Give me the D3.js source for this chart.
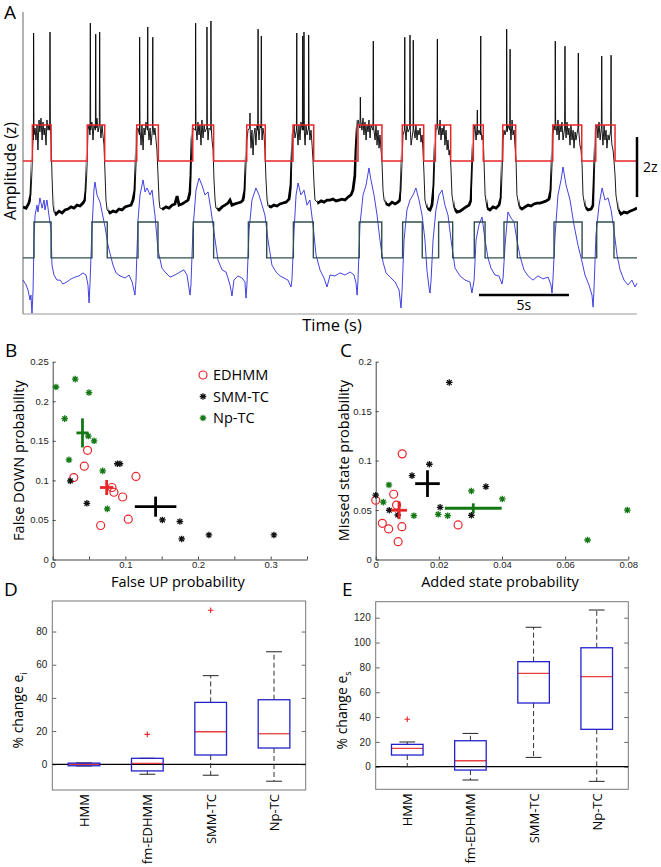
<!DOCTYPE html>
<html><head><meta charset="utf-8">
<script src="https://cdn.jsdelivr.net/npm/d3@7"></script>
<style>body{margin:0;background:#fff}svg{display:block}</style>
</head><body>
<svg id="fig" width="661" height="867"></svg>
<script>
// ---------------- DATA ----------------
// Panel A: traces (time s, amplitude z)
const blackTrace = [[0,3.57],[0.17,3.53],[0.33,3.7],[0.44,3.97],[0.5,4.8],[0.56,5.97],[0.58,5.8],[0.59,9.37],[0.61,5.97],
[0.67,6.2],[0.72,5.8],[0.78,6.3],[0.83,5.47],[0.89,6.47],[0.94,6.07],[1.0,6.53],[1.06,5.8],[1.11,6.4],[1.17,5.97],[1.22,6.2],[1.28,5.63],[1.33,6.47],[1.39,6.13],[1.44,6.3],[1.48,6.13],[1.5,9.4],[1.52,6.2],[1.56,5.8],[1.61,4.63],[1.67,3.63],[1.72,3.4],
[1.83,3.33],[2.0,3.43],[2.17,3.37],[2.33,3.47],[2.5,3.5],[2.67,3.57],[2.83,3.53],[3.0,3.63],[3.17,3.6],[3.33,3.7],[3.44,3.8],[3.5,4.13],[3.56,4.97],[3.61,6.13],
[3.67,6.3],[3.72,5.97],[3.74,9.7],[3.76,6.13],[3.83,6.4],[3.89,5.8],[3.94,6.3],[4.02,6.13],[4.04,9.33],[4.06,6.2],[4.11,6.53],[4.17,6.07],[4.24,6.3],[4.26,9.4],[4.28,6.3],[4.33,5.87],[4.39,6.3],[4.44,5.97],[4.5,5.63],[4.56,4.63],[4.61,3.8],[4.67,3.47],
[4.83,3.37],[5.0,3.43],[5.17,3.4],[5.33,3.5],[5.5,3.47],[5.67,3.57],[5.83,3.6],[6.0,3.63],[6.11,3.8],[6.22,4.13],[6.28,4.97],[6.33,6.13],
[6.39,6.2],[6.47,5.97],[6.48,9.23],[6.5,6.13],[6.56,5.63],[6.61,6.3],[6.67,5.47],[6.72,6.2],[6.78,5.97],[6.83,6.4],[6.91,6.13],[6.93,9.57],[6.94,6.3],[7.0,5.8],[7.06,6.2],[7.11,5.63],[7.19,6.13],[7.21,9.23],[7.22,6.3],[7.28,5.97],[7.33,6.2],[7.39,5.8],[7.44,5.47],[7.5,4.63],[7.56,3.8],[7.61,3.53],
[7.78,3.5],[7.94,3.57],[8.11,3.53],[8.28,3.63],[8.44,3.67],[8.56,3.93],[8.67,3.63],[8.83,3.67],[9.0,3.73],[9.17,3.8],[9.28,4.07],[9.33,4.63],[9.39,5.8],
[9.44,6.2],[9.58,6.13],[9.59,9.7],[9.61,6.2],[9.67,5.8],[9.72,6.4],[9.78,5.97],[9.83,6.3],[9.89,5.63],[9.94,6.47],[10.0,5.87],[10.06,6.3],[10.11,6.07],[10.21,6.2],[10.22,9.57],[10.24,6.3],[10.28,5.8],[10.33,6.2],[10.43,6.13],[10.44,9.77],[10.46,6.2],[10.5,5.8],[10.56,5.47],[10.61,4.47],[10.67,3.8],[10.72,3.53],
[10.89,3.47],[11.06,3.57],[11.22,3.63],[11.39,3.7],[11.5,3.8],[11.61,3.63],[11.78,3.67],[11.94,3.7],[12.11,3.73],[12.22,3.8],[12.33,4.13],[12.39,4.97],[12.44,5.8],
[12.5,6.13],[12.59,6.2],[12.61,6.7],[12.63,5.97],[12.67,5.53],[12.72,6.13],[12.78,5.3],[12.83,5.97],[12.89,6.2],[12.94,5.63],[13.0,6.3],[13.04,6.13],[13.06,9.5],[13.07,6.2],[13.11,5.8],[13.17,6.3],[13.22,6.2],[13.24,9.27],[13.26,6.13],[13.28,5.8],[13.33,6.2],[13.39,5.97],[13.44,5.47],[13.5,4.47],[13.56,3.8],[13.61,3.6],
[13.78,3.57],[13.94,3.63],[14.11,3.6],[14.28,3.67],[14.44,3.7],[14.61,3.73],[14.78,3.83],[14.89,4.3],[14.94,5.13],[15.0,5.97],
[15.06,6.3],[15.11,5.87],[15.19,6.13],[15.21,9.37],[15.22,6.2],[15.28,5.63],[15.33,6.3],[15.39,5.8],[15.44,6.4],[15.52,6.13],[15.54,9.27],[15.56,6.2],[15.59,6.13],[15.61,9.4],[15.63,6.07],[15.67,5.63],[15.72,6.3],[15.78,5.97],[15.86,6.2],[15.87,9.3],[15.89,6.3],[15.94,5.8],[16.0,6.13],[16.06,5.63],[16.11,5.13],[16.17,4.3],[16.22,3.8],
[16.39,3.7],[16.56,3.77],[16.72,3.73],[16.89,3.8],[17.06,3.8],[17.22,3.83],[17.39,3.77],[17.56,3.8],[17.72,3.83],[17.89,3.8],[18.06,3.9],[18.22,3.97],[18.33,4.13],[18.44,4.63],[18.5,5.47],[18.56,6.13],
[18.61,6.47],[18.72,6.2],[18.74,7.23],[18.76,6.47],[18.83,6.13],[18.89,6.53],[18.94,5.97],[19.0,6.4],[19.06,5.8],[19.11,6.3],[19.17,6.07],[19.22,6.47],[19.28,5.87],[19.33,6.3],[19.44,6.13],[19.46,9.1],[19.48,6.2],[19.56,5.8],[19.61,6.3],[19.67,5.63],[19.72,6.13],[19.78,5.53],[19.83,5.97],[19.89,5.47],[19.94,5.13],[20.0,4.13],[20.06,3.8],[20.17,3.67],
[20.33,3.63],[20.5,3.73],[20.67,3.67],[20.83,3.73],[20.94,3.8],[21.0,4.13],[21.06,5.13],[21.11,5.97],
[21.19,6.13],[21.21,9.23],[21.22,6.2],[21.28,5.8],[21.33,6.3],[21.39,6.07],[21.48,6.2],[21.5,9.3],[21.52,6.13],[21.56,5.63],[21.67,6.13],[21.68,9.13],[21.7,6.2],[21.78,5.87],[21.83,6.3],[21.89,5.8],[21.94,6.13],[22.0,5.97],[22.06,6.2],[22.11,5.73],[22.17,5.97],[22.22,5.47],[22.28,4.63],[22.33,3.8],[22.44,3.53],[22.61,3.47],[22.72,3.63],[22.83,4.3],[22.89,5.47],[22.94,6.13],
[23.0,6.2],[23.02,9.17],[23.03,6.3],[23.11,5.97],[23.17,6.47],[23.22,5.8],[23.28,6.2],[23.33,5.97],[23.39,6.3],[23.44,5.63],[23.5,6.13],[23.56,5.47],[23.61,5.8],[23.67,5.3],[23.72,5.47],[23.78,4.8],[23.83,3.97],[23.94,3.53],[24.11,3.4],[24.28,3.43],[24.44,3.5],[24.61,3.57],[24.78,3.63],[24.89,3.8],[24.94,4.47],[25.0,5.47],[25.06,6.13],
[25.11,6.3],[25.17,5.8],[25.22,6.2],[25.24,6.8],[25.26,5.97],[25.33,6.13],[25.41,5.97],[25.43,9.27],[25.44,6.13],[25.5,5.8],[25.56,5.97],[25.61,5.13],[25.67,3.97],[25.78,3.53],
[25.94,3.47],[26.11,3.57],[26.28,3.53],[26.44,3.63],[26.56,3.87],[26.61,4.63],[26.67,5.8],
[26.72,6.13],[26.78,5.97],[26.86,6.2],[26.87,9.5],[26.89,6.07],[26.94,6.3],[27.04,6.13],[27.06,8.83],[27.07,6.2],[27.11,5.8],[27.17,6.47],[27.22,5.97],[27.28,6.13],[27.33,5.63],[27.39,5.13],[27.44,3.97],[27.56,3.57],
[27.72,3.5],[27.89,3.57],[28.06,3.63],[28.22,3.6],[28.39,3.67],[28.56,3.7],[28.72,3.7],[28.89,3.73],[29.06,3.77],[29.22,3.83],[29.33,4.13],[29.39,4.97],[29.44,5.97],
[29.5,6.3],[29.56,6.13],[29.57,9.1],[29.59,6.4],[29.67,5.97],[29.72,6.47],[29.78,5.8],[29.83,6.3],[29.89,6.07],[29.94,6.4],[30.0,5.8],[30.09,6.2],[30.11,8.93],[30.13,6.3],[30.17,5.87],[30.22,6.4],[30.28,5.97],[30.33,6.2],[30.39,5.63],[30.44,6.3],[30.5,5.8],[30.56,6.13],[30.61,5.53],[30.67,6.07],[30.72,5.8],[30.83,6.2],[30.85,8.7],[30.87,6.13],[30.94,5.63],[31.0,5.47],[31.06,4.97],[31.11,3.97],[31.22,3.57],[31.39,3.47],
[31.56,3.5],[31.67,3.63],[31.72,4.3],[31.78,5.3],[31.83,6.13],
[31.89,6.3],[31.94,5.87],[32.0,6.4],[32.06,5.8],[32.13,6.2],[32.15,8.6],[32.17,6.13],[32.22,5.63],[32.28,6.3],[32.33,5.8],[32.39,6.13],[32.44,5.53],[32.5,5.97],[32.56,5.8],[32.65,6.13],[32.67,8.63],[32.68,5.97],[32.72,5.63],[32.78,5.47],[32.83,5.13],[32.89,4.63],[32.94,3.97],[33.06,3.47],
[33.22,3.33],[33.39,3.4],[33.56,3.37],[33.72,3.43],[33.89,3.47],[34.11,3.53]];

const blueTrace = [[0,1.13],[0.17,0.97],[0.28,0.8],[0.39,0.47],[0.44,0.63],[0.5,0.03],[0.56,0.8],[0.61,2.47],[0.67,3.3],[0.78,3.63],[0.83,3.4],[0.94,3.87],[1.06,3.53],[1.17,3.8],[1.22,3.47],[1.33,3.8],[1.44,3.3],[1.56,2.8],[1.61,1.63],[1.72,1.3],[1.89,1.13],[2.06,1.13],[2.22,1.0],[2.44,1.07],[2.67,1.17],[2.89,1.23],[3.11,1.27],[3.33,1.37],[3.5,1.3],[3.61,0.97],[3.67,0.37],[3.72,0.97],[3.83,2.8],[3.94,4.13],[4.0,4.4],[4.11,3.97],[4.28,3.73],[4.39,3.4],[4.56,2.9],[4.72,2.3],[4.83,2.03],[5.0,1.63],[5.17,1.37],[5.39,1.27],[5.67,1.2],[5.89,1.3],[6.06,1.07],[6.22,0.63],[6.28,1.13],[6.39,3.13],[6.5,3.97],[6.67,4.47],[6.78,4.07],[6.89,4.2],[7.06,3.97],[7.17,4.13],[7.33,3.3],[7.5,2.13],[7.72,1.53],[7.89,1.4],[8.17,1.23],[8.44,1.3],[8.72,1.4],[8.94,1.47],[9.11,1.3],[9.28,0.63],[9.33,0.97],[9.44,2.8],[9.61,4.13],[9.78,4.53],[9.94,4.3],[10.11,3.97],[10.28,4.07],[10.44,3.47],[10.61,2.73],[10.83,1.8],[11.06,1.47],[11.28,1.4],[11.5,0.97],[11.61,0.6],[11.72,1.13],[11.94,1.27],[12.17,1.2],[12.33,1.07],[12.39,0.53],[12.44,0.97],[12.56,2.8],[12.72,3.8],[12.94,4.2],[13.11,3.97],[13.28,3.63],[13.44,3.3],[13.61,2.47],[13.83,1.63],[14.06,1.4],[14.28,1.27],[14.5,1.2],[14.72,1.13],[14.89,0.9],[14.94,1.13],[15.06,2.8],[15.17,3.97],[15.28,4.37],[15.44,3.97],[15.61,4.13],[15.78,3.63],[15.94,3.8],[16.11,2.97],[16.28,1.97],[16.5,1.47],[16.72,1.2],[16.89,0.9],[17.06,1.3],[17.33,1.27],[17.61,1.37],[17.89,1.3],[18.17,1.4],[18.39,1.3],[18.5,1.03],[18.56,0.63],[18.61,1.13],[18.72,2.97],[18.89,3.97],[19.06,4.3],[19.22,4.87],[19.33,4.47],[19.5,3.97],[19.67,3.3],[19.83,2.47],[20.0,1.73],[20.17,1.37],[20.39,1.23],[20.67,1.07],[20.89,0.8],[21.0,0.2],[21.06,0.8],[21.17,2.47],[21.33,3.47],[21.5,3.8],[21.67,3.97],[21.83,4.2],[22.0,3.8],[22.17,3.3],[22.33,2.47],[22.44,1.47],[22.56,0.87],[22.61,0.7],[22.67,1.13],[22.78,2.47],[22.94,3.47],[23.11,3.97],[23.28,4.13],[23.44,3.63],[23.61,3.3],[23.78,2.47],[24.0,1.53],[24.28,1.27],[24.56,1.13],[24.83,1.07],[24.94,0.7],[25.06,1.13],[25.17,2.47],[25.33,2.97],[25.5,3.23],[25.67,2.47],[25.83,1.87],[26.0,1.53],[26.22,1.3],[26.44,1.27],[26.61,1.0],[26.67,1.2],[26.78,2.3],[26.94,3.4],[27.11,3.2],[27.28,3.07],[27.44,2.47],[27.61,1.93],[27.83,1.47],[28.06,1.27],[28.33,1.13],[28.61,1.27],[28.89,1.17],[29.17,1.23],[29.33,0.97],[29.39,0.7],[29.44,1.13],[29.56,2.63],[29.72,3.97],[29.89,4.47],[30.0,4.9],[30.17,4.3],[30.39,3.8],[30.61,2.97],[30.83,2.3],[31.06,1.73],[31.22,1.3],[31.44,0.97],[31.61,0.63],[31.67,0.23],[31.72,0.8],[31.83,2.63],[32.0,3.63],[32.17,4.2],[32.33,3.8],[32.5,3.87],[32.67,3.47],[32.83,2.8],[33.0,1.97],[33.17,1.47],[33.39,1.13],[33.61,0.97],[33.83,1.13],[34.0,0.9],[34.11,1.03]];

// UP-state intervals (s)
const redUp = [[0.52,1.56],[3.57,4.54],[6.32,7.52],[9.43,10.59],[12.43,13.46],[15.0,16.15],[18.61,19.94],[21.07,22.26],[22.91,23.76],[25.02,25.57],[26.65,27.37],[29.43,31.04],[31.82,32.89]];
const slateUp = [[0.61,1.56],[3.83,4.68],[6.39,7.5],[9.46,10.59],[12.52,13.54],[15.02,16.13],[18.68,19.93],[21.09,22.18],[23.09,23.87],[25.07,25.67],[26.72,27.46],[29.5,31.06],[31.87,32.83]];
const redLevels = [5.1, 6.3];
const slateLevels = [1.87, 3.07];
const tEnd = 34.11;
const zBar = [3.9, 5.9];          // 2z scale bar
const tBar = [25.33, 30.33];      // 5 s scale bar
const tBarZ = 0.63;

// Panel B
const bEdX = [0.048,0.0435,0.029,0.1146,0.0816,0.0843,0.0963,0.104,0.066];
const bEdY = [0.138,0.118,0.1035,0.105,0.091,0.085,0.079,0.051,0.043];
const bSmX = [0.0242,0.047,0.089,0.0926,0.151,0.175,0.1775,0.215,0.3045];
const bSmY = [0.0994,0.071,0.121,0.121,0.050,0.048,0.026,0.031,0.031];
const bNpX = [0.0045,0.031,0.050,0.0165,0.049,0.057,0.0224,0.0688,0.0751];
const bNpY = [0.218,0.228,0.211,0.178,0.156,0.150,0.126,0.112,0.064];
const bMeans = [[0.0743,0.091,0.0092,0.0095],[0.1416,0.0668,0.0286,0.0127],[0.041,0.160,0.0083,0.0184]]; // x,y,errX,errY
// Panel C
const cEdX = [0.0084,0,0.0057,0.0066,0.0021,0.0041,0.0083,0.0261,0.0071];
const cEdY = [0.1068,0.060,0.066,0.055,0.0366,0.0309,0.0332,0.035,0.018];
const cSmX = [0.0233,0.017,0.0115,0.0349,0,0.0043,0.007,0.0204,0.0303];
const cSmY = [0.179,0.0963,0.0848,0.0737,0.065,0.0498,0.045,0.0528,0.0447];
const cNpX = [0.0042,0.0024,0.0121,0.0198,0.0228,0.0303,0.0401,0.0797,0.0671];
const cNpY = [0.0754,0.058,0.0443,0.0457,0.0443,0.0693,0.0612,0.050,0.0197];
const cMeans = [[0.0074,0.0498,0.0025,0.009],[0.0164,0.0767,0.0039,0.0135],[0.0309,0.0518,0.009,0.005]];
const legendNames = ["EDHMM","SMM-TC","Np-TC"];

// Panels D, E (boxplots)
const boxCats = ["HMM","fm-EDHMM","SMM-TC","Np-TC"];
const dLow = [-1,-6,-6.6,-10.2], dQ1 = [-0.9,-4.0,5.6,9.8], dMed = [0,0.6,19.6,18.4], dQ3 = [0.7,3.6,37.3,38.9], dHigh = [0.8,3.6,53.4,67.8];
const dOut = [[1,18],[2,92.8]];   // [category index, value]
const eLow = [0,-10.7,7.5,-11.8], eQ1 = [9.4,-2.7,51.3,30.1], eMed = [14.8,4.8,75.2,72.5], eQ3 = [18.0,20.9,84.6,95.8], eHigh = [19.9,26.8,112.3,126.2];
const eOut = [[0,38.2]];
const dTicks = [0,20,40,60,80], eTicks = [0,20,40,60,80,100,120];
const bXTicks = [0,0.05,0.1,0.15,0.2,0.25,0.3,0.35], bYTicks = [0,0.05,0.1,0.15,0.2,0.25];
const cXTicks = [0,0.02,0.04,0.06,0.08], cYTicks = [0,0.05,0.1,0.15,0.2];

// ---------------- DRAW ----------------
const svg = d3.select("#fig");
const LF = "'Open Sans', sans-serif";
const TF = "'Liberation Sans', Arial, sans-serif";
const RED = "#e8262a", GREEN = "#137813", BLUE = "#2c2cdc", SLATE = "#2f4f4f";

function panelLabel(t, x, y){ svg.append("text").attr("x",x).attr("y",y).attr("font-family",LF).attr("font-size",19).text(t); }

// ---- Panel A ----
const xA = d3.scaleLinear().domain([0, tEnd]).range([23, 637]);
const yA = d3.scaleLinear().domain([0, 10.07]).range([314, 12]);
const gA = svg.append("g");
gA.append("line").attr("x1",xA(0)).attr("x2",xA(0)).attr("y1",yA(10.07)).attr("y2",yA(0)).attr("stroke","#666").attr("stroke-width",1);
gA.append("line").attr("x1",xA(0)).attr("x2",xA(tEnd)).attr("y1",yA(0)).attr("y2",yA(0)).attr("stroke","#999").attr("stroke-width",1);

function stepPoints(ints, lv){
  const pts = [[0, lv[0]]];
  ints.forEach(([s,e]) => { pts.push([s,lv[0]],[s,lv[1]],[e,lv[1]],[e,lv[0]]); });
  pts.push([tEnd, lv[0]]);
  return pts;
}
const lineA = d3.line().x(d=>xA(d[0])).y(d=>yA(d[1]));
// thicker stroke during DOWN states to mimic the noisy baseline band
const clip = svg.append("defs").append("clipPath").attr("id","downclip");
let prev = 0;
redUp.forEach(([s,e],i) => {
  const a = i===0 ? 0 : prev + 0.2, b = s - 0.08;
  if (b > a) clip.append("rect").attr("x",xA(a)).attr("y",0).attr("width",xA(b)-xA(a)).attr("height",330);
  prev = e;
});
clip.append("rect").attr("x",xA(prev+0.2)).attr("y",0).attr("width",xA(tEnd)-xA(prev+0.2)).attr("height",330);

gA.append("path").attr("d",lineA(blueTrace)).attr("fill","none").attr("stroke",BLUE).attr("stroke-width",0.9);
gA.append("path").attr("d",lineA(stepPoints(slateUp, slateLevels))).attr("fill","none").attr("stroke",SLATE).attr("stroke-width",1.4);
gA.append("path").attr("d",lineA(blackTrace)).attr("fill","none").attr("stroke","#000").attr("stroke-width",2.8).attr("clip-path","url(#downclip)");
gA.append("path").attr("d",lineA(blackTrace)).attr("fill","none").attr("stroke","#000").attr("stroke-width",0.9);
gA.append("path").attr("d",lineA(stepPoints(redUp, redLevels))).attr("fill","none").attr("stroke",RED).attr("stroke-width",1.5);

// scale bars
gA.append("line").attr("x1",xA(tEnd)).attr("x2",xA(tEnd)).attr("y1",yA(zBar[0])).attr("y2",yA(zBar[1])).attr("stroke","#000").attr("stroke-width",2.5);
gA.append("text").attr("x",xA(tEnd)+6).attr("y",yA((zBar[0]+zBar[1])/2)+5).attr("font-family",LF).attr("font-size",14).text("2z");
gA.append("line").attr("x1",xA(tBar[0])).attr("x2",xA(tBar[1])).attr("y1",yA(tBarZ)).attr("y2",yA(tBarZ)).attr("stroke","#000").attr("stroke-width",2.5);
gA.append("text").attr("x",xA((tBar[0]+tBar[1])/2)).attr("y",yA(tBarZ)+15).attr("text-anchor","middle").attr("font-family",LF).attr("font-size",14).text("5s");
gA.append("text").attr("transform",`translate(16,${(yA(0)+yA(10.07))/2+8}) rotate(-90)`).attr("text-anchor","middle").attr("font-family",LF).attr("font-size",16).text("Amplitude (z)");
gA.append("text").attr("x",332).attr("y",331).attr("text-anchor","middle").attr("font-family",LF).attr("font-size",16.5).text("Time (s)");
panelLabel("A",4,19);

// ---- scatter helpers ----
function starPath(r){ const d=r*0.72; return `M${-r},0H${r}M0,${-r}V${r}M${-d},${-d}L${d},${d}M${-d},${d}L${d},${-d}`; }
function fmt(v){ return String(+v.toFixed(2)); }
function scatterPanel(g, x, y, xt, yt, xLabelEvery, ed, sm, np, means, xlab, ylab, ylabX, crossW){
  const ax = g.append("g").attr("transform",`translate(0,${y(0)})`)
    .call(d3.axisBottom(x).tickValues(xt).tickSize(-3).tickSizeOuter(0).tickPadding(2)
      .tickFormat(v => (Math.abs(Math.round(v/xLabelEvery)*xLabelEvery - v) < 1e-9) ? fmt(v) : ""));
  const ay = g.append("g").attr("transform",`translate(${x(0)},0)`)
    .call(d3.axisLeft(y).tickValues(yt).tickSize(-3).tickSizeOuter(0).tickPadding(4).tickFormat(fmt));
  [ax, ay].forEach(a => { a.select(".domain").attr("stroke","#444"); a.selectAll(".tick line").attr("stroke","#444");
    a.selectAll("text").attr("font-family",TF).attr("font-size",9.5).attr("fill","#222"); });
  // points
  ed[0].forEach((v,i) => g.append("circle").attr("cx",x(v)).attr("cy",y(ed[1][i])).attr("r",4).attr("fill","none").attr("stroke",RED).attr("stroke-width",1.2));
  sm[0].forEach((v,i) => g.append("path").attr("transform",`translate(${x(v)},${y(sm[1][i])})`).attr("d",starPath(3.3)).attr("stroke","#111").attr("stroke-width",1.3).attr("fill","none"));
  np[0].forEach((v,i) => g.append("path").attr("transform",`translate(${x(v)},${y(np[1][i])})`).attr("d",starPath(3.3)).attr("stroke",GREEN).attr("stroke-width",1.3).attr("fill","none"));
  const cols = [RED,"#000",GREEN];
  means.forEach((m,i) => {
    g.append("line").attr("x1",x(m[0]-m[2])).attr("x2",x(m[0]+m[2])).attr("y1",y(m[1])).attr("y2",y(m[1])).attr("stroke",cols[i]).attr("stroke-width",crossW);
    g.append("line").attr("x1",x(m[0])).attr("x2",x(m[0])).attr("y1",y(m[1]-m[3])).attr("y2",y(m[1]+m[3])).attr("stroke",cols[i]).attr("stroke-width",crossW);
  });
  g.append("text").attr("x",(x.range()[0]+x.range()[1])/2 - 2).attr("y",587).attr("text-anchor","middle").attr("font-family",LF).attr("font-size",14.5).text(xlab);
  g.append("text").attr("transform",`translate(${ylabX},${(y(0)+y(y.domain()[1]))/2}) rotate(-90)`).attr("text-anchor","middle").attr("font-family",LF).attr("font-size",14.5).text(ylab);
}

// ---- Panel B ----
const xB = d3.scaleLinear().domain([0,0.35]).range([52.7,307]);
const yB = d3.scaleLinear().domain([0,0.25]).range([559.5,361.7]);
scatterPanel(svg.append("g"), xB, yB, bXTicks, bYTicks, 0.1, [bEdX,bEdY],[bSmX,bSmY],[bNpX,bNpY], bMeans, "False UP probability", "False DOWN probability", 24, 2.8);
panelLabel("B",5,357);
// legend
const lg = svg.append("g");
legendNames.forEach((n,i) => {
  const ly = 375 + i*21.5;
  if (i===0) lg.append("circle").attr("cx",203).attr("cy",ly).attr("r",4).attr("fill","none").attr("stroke",RED).attr("stroke-width",1.2);
  else lg.append("path").attr("transform",`translate(203,${ly})`).attr("d",starPath(3.3)).attr("stroke",i===1?"#111":GREEN).attr("stroke-width",1.3).attr("fill","none");
  lg.append("text").attr("x",213).attr("y",ly+5).attr("font-family",LF).attr("font-size",14.5).text(n);
});

// ---- Panel C ----
const xC = d3.scaleLinear().domain([0,0.08]).range([375.7,628.3]);
const yC = d3.scaleLinear().domain([0,0.2]).range([559.5,361.7]);
scatterPanel(svg.append("g"), xC, yC, cXTicks, cYTicks, 0.02, [cEdX,cEdY],[cSmX,cSmY],[cNpX,cNpY], cMeans, "Added state probability", "Missed state probability", 349, 2.8);
panelLabel("C",340,357);

// ---- Box panels ----
function boxPanel(x0, x1, yTop, yBot, dom, ticks, low, q1, med, q3, high, outs, sub){
  const g = svg.append("g");
  const x = d3.scaleLinear().domain([0.5,4.5]).range([x0,x1]);
  const y = d3.scaleLinear().domain(dom).range([yBot,yTop]);
  const ayl = g.append("g").attr("transform",`translate(${x0},0)`).call(d3.axisLeft(y).tickValues(ticks).tickSize(-4).tickSizeOuter(0).tickPadding(5));
  const ayr = g.append("g").attr("transform",`translate(${x1},0)`).call(d3.axisRight(y).tickValues(ticks).tickSize(-4).tickSizeOuter(0).tickFormat(""));
  [ayl,ayr].forEach(a => { a.select(".domain").remove(); a.selectAll(".tick line").attr("stroke","#666"); });
  ayl.selectAll("text").attr("font-family",TF).attr("font-size",10).attr("fill","#222");
  g.append("rect").attr("x",x0).attr("y",yTop).attr("width",x1-x0).attr("height",yBot-yTop).attr("fill","none").attr("stroke","#777").attr("stroke-width",1);
  g.append("line").attr("x1",x0).attr("x2",x1).attr("y1",y(0)).attr("y2",y(0)).attr("stroke","#000").attr("stroke-width",1.2);
  const bw = (x(2)-x(1))*0.5, cw = bw*0.5;
  boxCats.forEach((c,i) => {
    const cx = x(i+1);
    g.append("line").attr("x1",cx).attr("x2",cx).attr("y1",y(q3[i])).attr("y2",y(high[i])).attr("stroke","#333").attr("stroke-dasharray","5,3").attr("stroke-width",1);
    g.append("line").attr("x1",cx).attr("x2",cx).attr("y1",y(q1[i])).attr("y2",y(low[i])).attr("stroke","#333").attr("stroke-dasharray","5,3").attr("stroke-width",1);
    [low[i],high[i]].forEach(v => g.append("line").attr("x1",cx-cw/2).attr("x2",cx+cw/2).attr("y1",y(v)).attr("y2",y(v)).attr("stroke","#222").attr("stroke-width",1));
    g.append("line").attr("x1",cx-bw/2).attr("x2",cx+bw/2).attr("y1",y(med[i])).attr("y2",y(med[i])).attr("stroke","#e84040").attr("stroke-width",1.3);
    g.append("rect").attr("x",cx-bw/2).attr("y",y(q3[i])).attr("width",bw).attr("height",Math.max(y(q1[i])-y(q3[i]),1)).attr("fill","none").attr("stroke","#2222cc").attr("stroke-width",1.3);
    g.append("text").attr("transform",`translate(${cx},${yBot+4}) rotate(-90)`).attr("text-anchor","end").attr("dominant-baseline","central").attr("font-family",LF).attr("font-size",13).text(c);
  });
  outs.forEach(([ci,v]) => {
    g.append("path").attr("transform",`translate(${x(ci+1)},${y(v)})`).attr("d","M-2.8,0H2.8M0,-2.8V2.8").attr("stroke",RED).attr("stroke-width",1.1);
  });
  const t = g.append("text").attr("transform",`translate(${x0-29},${(yTop+yBot)/2+15}) rotate(-90)`).attr("text-anchor","middle").attr("font-family",LF).attr("font-size",14);
  t.append("tspan").text("% change e");
  t.append("tspan").attr("font-size",9).attr("dy",4).text(sub);
}
boxPanel(52.3,305.7,601,790,[-15.5,98.4],dTicks,dLow,dQ1,dMed,dQ3,dHigh,dOut,"i");
panelLabel("D",4,596);
boxPanel(375.7,628.3,601.7,789.3,[-18.2,132.9],eTicks,eLow,eQ1,eMed,eQ3,eHigh,eOut,"s");
panelLabel("E",342,596);
</script>
</body></html>
